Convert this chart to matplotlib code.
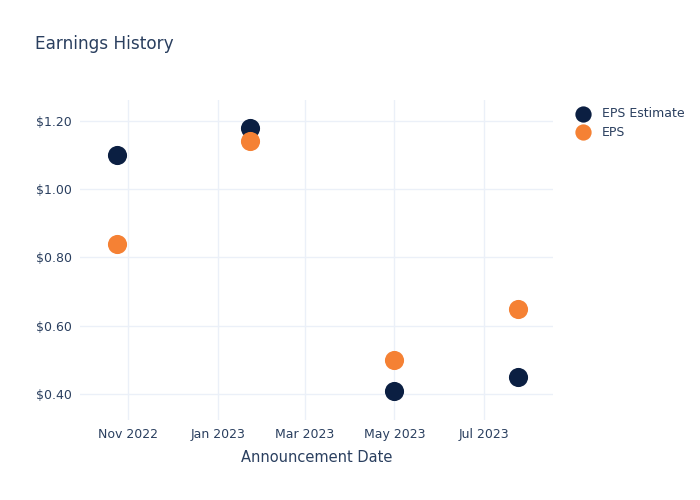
import numpy as np
import pandas as pd
import matplotlib
matplotlib.use('Agg')
import matplotlib.pyplot as plt
import matplotlib.dates as mdates
from matplotlib.ticker import FuncFormatter

# Earnings history data
dates = pd.to_datetime(['2022-10-24', '2023-01-23', '2023-05-01', '2023-07-24'])
eps_estimate = [1.10, 1.18, 0.41, 0.45]
eps_actual = [0.84, 1.14, 0.50, 0.65]

text_color = '#2a3f5f'
grid_color = '#ebf0f8'
navy = '#0b1f42'
orange = '#f58134'

plt.rcParams['font.family'] = ['DejaVu Sans']

fig = plt.figure(figsize=(7, 5), dpi=100)
ax = fig.add_axes([80 / 700, 80 / 500, 473 / 700, 320 / 500])

ax.scatter(dates, eps_estimate, s=190, color=navy, label='EPS Estimate', zorder=3, linewidths=0)
ax.scatter(dates, eps_actual, s=190, color=orange, label='EPS', zorder=3, linewidths=0)

ax.set_xlim(pd.Timestamp('2022-09-29'), pd.Timestamp('2023-08-17'))
ax.set_ylim(0.3238, 1.2615)

ax.xaxis.set_major_locator(mdates.MonthLocator(bymonth=[1, 3, 5, 7, 9, 11]))
ax.xaxis.set_major_formatter(mdates.DateFormatter('%b %Y'))
ax.set_yticks([0.4, 0.6, 0.8, 1.0, 1.2])
ax.yaxis.set_major_formatter(FuncFormatter(lambda v, p: f'${v:.2f}'))

ax.grid(True, color=grid_color, linewidth=1)
ax.set_axisbelow(True)
for s in ax.spines.values():
    s.set_visible(False)
ax.tick_params(length=0, colors=text_color, labelsize=9, pad=6)

ax.set_xlabel('Announcement Date', color=text_color, fontsize=10.5, labelpad=6)

fig.text(35 / 700, 1 - 44 / 500, 'Earnings History', color=text_color, fontsize=12.2,
         va='center', ha='left')

leg = ax.legend(loc='upper left', bbox_to_anchor=(1.013, 1.012), frameon=False,
                fontsize=9, labelcolor=text_color, handletextpad=0.5,
                labelspacing=0.42, markerscale=0.85)

fig.savefig('out.png', dpi=100)
